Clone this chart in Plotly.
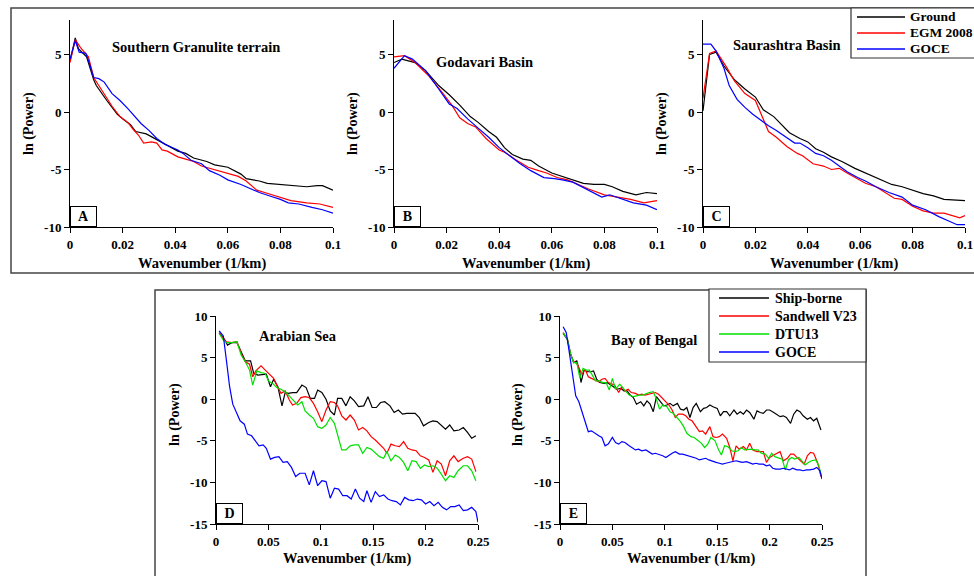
import plotly.graph_objects as go

# ---------------- DATA ----------------
# Panel A - Southern Granulite terrain
a_ground_x = [0, 0.002, 0.0032, 0.0063, 0.009, 0.010, 0.014, 0.018, 0.020, 0.023, 0.025, 0.029, 0.033, 0.037, 0.041, 0.044, 0.047, 0.052, 0.055, 0.060, 0.065, 0.067, 0.072, 0.075, 0.080, 0.085, 0.090, 0.094, 0.096, 0.1]
a_ground_y = [4.4, 6.45, 5.5, 4.8, 2.8, 2.3, 1.0, -0.2, -0.6, -1.1, -1.7, -1.9, -2.4, -2.9, -3.4, -3.6, -4.0, -4.3, -4.6, -4.8, -5.4, -5.8, -6.0, -6.2, -6.3, -6.4, -6.5, -6.4, -6.4, -6.8]
a_egm_x = [0, 0.002, 0.004, 0.007, 0.009, 0.013, 0.016, 0.019, 0.022, 0.024, 0.026, 0.028, 0.031, 0.033, 0.035, 0.037, 0.041, 0.044, 0.047, 0.050, 0.053, 0.056, 0.060, 0.064, 0.067, 0.071, 0.074, 0.077, 0.080, 0.084, 0.090, 0.095, 0.1]
a_egm_y = [4.3, 6.3, 5.6, 4.8, 3.0, 1.5, 0.5, -0.4, -0.9, -1.5, -2.0, -2.7, -2.6, -2.7, -3.3, -3.4, -3.9, -4.1, -4.3, -4.7, -4.9, -5.1, -5.4, -5.6, -6.0, -6.8, -7.0, -7.2, -7.4, -7.7, -7.9, -8.0, -8.3]
a_goce_x = [0, 0.002, 0.0035, 0.006, 0.007, 0.009, 0.011, 0.013, 0.016, 0.019, 0.022, 0.025, 0.027, 0.030, 0.033, 0.036, 0.038, 0.041, 0.043, 0.046, 0.050, 0.053, 0.057, 0.060, 0.065, 0.069, 0.072, 0.076, 0.080, 0.083, 0.087, 0.092, 0.096, 0.1]
a_goce_y = [4.6, 6.2, 5.2, 5.1, 4.5, 3.0, 2.9, 2.6, 1.6, 1.0, 0.3, -0.5, -1.0, -1.6, -2.3, -2.8, -3.0, -3.3, -3.6, -4.2, -4.5, -5.1, -5.5, -5.9, -6.3, -6.7, -7.0, -7.3, -7.6, -7.9, -8.0, -8.3, -8.5, -8.8]

# Panel B - Godavari Basin
b_ground_x = [0, 0.003, 0.008, 0.012, 0.017, 0.021, 0.025, 0.029, 0.032, 0.036, 0.039, 0.042, 0.045, 0.049, 0.052, 0.055, 0.060, 0.064, 0.068, 0.072, 0.076, 0.080, 0.083, 0.087, 0.092, 0.096, 0.1]
b_ground_y = [4.3, 4.6, 4.3, 3.6, 2.3, 1.5, 0.6, -0.4, -0.9, -1.7, -2.2, -3.1, -3.7, -4.1, -4.2, -4.7, -5.3, -5.6, -5.9, -6.2, -6.3, -6.3, -6.5, -6.9, -7.2, -7.0, -7.1]
b_egm_x = [0, 0.004, 0.008, 0.013, 0.018, 0.022, 0.025, 0.028, 0.031, 0.035, 0.040, 0.042, 0.046, 0.051, 0.055, 0.058, 0.062, 0.066, 0.069, 0.074, 0.080, 0.085, 0.090, 0.095, 0.1]
b_egm_y = [4.8, 4.9, 4.3, 3.2, 1.8, 0.6, -0.5, -1.0, -1.3, -2.3, -3.3, -3.5, -4.1, -4.8, -5.1, -5.3, -5.7, -5.9, -6.2, -6.7, -7.2, -7.4, -7.6, -7.9, -7.7]
b_goce_x = [0, 0.004, 0.007, 0.012, 0.017, 0.021, 0.024, 0.028, 0.032, 0.036, 0.040, 0.044, 0.048, 0.052, 0.057, 0.061, 0.064, 0.068, 0.074, 0.079, 0.082, 0.086, 0.091, 0.096, 0.1]
b_goce_y = [3.8, 4.9, 4.6, 3.6, 2.0, 0.7, 0.3, -0.6, -1.4, -2.2, -3.1, -3.8, -4.5, -5.1, -5.7, -5.8, -5.9, -6.1, -6.8, -7.4, -7.2, -7.5, -7.9, -8.1, -8.5]

# Panel C - Saurashtra Basin
c_ground_x = [0, 0.0025, 0.005, 0.008, 0.012, 0.016, 0.020, 0.023, 0.027, 0.030, 0.033, 0.037, 0.040, 0.043, 0.046, 0.049, 0.053, 0.058, 0.060, 0.064, 0.068, 0.072, 0.076, 0.080, 0.084, 0.088, 0.092, 0.1]
c_ground_y = [0.1, 5.0, 5.2, 4.0, 2.8, 2.0, 1.3, 0.2, -0.4, -1.1, -1.8, -2.3, -2.6, -3.2, -3.5, -3.9, -4.3, -4.9, -5.1, -5.5, -5.9, -6.3, -6.5, -6.8, -7.1, -7.3, -7.6, -7.7]
c_egm_x = [0, 0.0025, 0.005, 0.009, 0.012, 0.016, 0.020, 0.023, 0.025, 0.028, 0.032, 0.036, 0.038, 0.042, 0.046, 0.049, 0.052, 0.055, 0.059, 0.062, 0.066, 0.069, 0.073, 0.076, 0.080, 0.084, 0.088, 0.092, 0.098, 0.1]
c_egm_y = [1.2, 5.1, 5.3, 3.9, 2.7, 1.6, 1.0, -0.6, -1.7, -2.2, -3.0, -3.6, -3.8, -4.5, -4.7, -5.0, -4.9, -5.3, -5.8, -6.2, -6.5, -6.9, -7.5, -7.6, -8.2, -8.6, -8.8, -8.8, -9.2, -9.0]
c_goce_x = [0, 0.003, 0.005, 0.008, 0.010, 0.013, 0.016, 0.019, 0.022, 0.025, 0.028, 0.032, 0.035, 0.037, 0.040, 0.043, 0.046, 0.049, 0.052, 0.055, 0.059, 0.062, 0.066, 0.071, 0.076, 0.080, 0.085, 0.090, 0.094, 0.097, 0.1]
c_goce_y = [5.9, 5.9, 5.3, 3.8, 2.3, 1.1, 0.4, -0.2, -0.7, -1.2, -1.6, -2.2, -2.7, -2.7, -3.1, -3.6, -3.8, -4.2, -4.7, -5.2, -5.7, -6.0, -6.5, -7.0, -7.4, -8.1, -8.5, -9.1, -9.5, -9.8, -9.8]

# Panel D - Arabian Sea
d_ship_x = [0.003, 0.008, 0.011, 0.015, 0.020, 0.025, 0.028, 0.033, 0.036, 0.040, 0.045, 0.048, 0.052, 0.055, 0.059, 0.063, 0.066, 0.069, 0.073, 0.077, 0.082, 0.086, 0.090, 0.094, 0.097, 0.101, 0.105, 0.109, 0.113, 0.116, 0.120, 0.124, 0.128, 0.132, 0.136, 0.141, 0.145, 0.149, 0.153, 0.157, 0.161, 0.166, 0.170, 0.174, 0.178, 0.182, 0.186, 0.190, 0.194, 0.198, 0.203, 0.207, 0.211, 0.215, 0.219, 0.223, 0.227, 0.232, 0.236, 0.240, 0.244, 0.248]
d_ship_y = [8.0, 7.2, 6.5, 6.8, 6.8, 5.3, 4.6, 4.6, 3.1, 2.9, 3.0, 3.0, 1.5, 2.4, 1.5, -0.8, 0.8, 0.7, 0.8, 0.8, 1.7, 1.4, 0.1, 0.1, 1.1, 0.8, 0.0, -1.4, -1.9, 0.1, 0.1, -0.8, 0.3, -0.2, -0.9, -0.8, 0.3, -1.0, -1.0, -0.4, -0.3, -0.8, -1.6, -1.3, -1.8, -1.7, -1.7, -1.7, -2.2, -3.2, -2.8, -2.6, -2.7, -3.1, -3.6, -3.1, -3.8, -3.7, -3.4, -4.0, -4.7, -4.4]
d_sand_x = [0.003, 0.007, 0.010, 0.015, 0.020, 0.025, 0.028, 0.032, 0.035, 0.038, 0.043, 0.047, 0.051, 0.055, 0.058, 0.062, 0.066, 0.070, 0.073, 0.077, 0.081, 0.085, 0.089, 0.093, 0.097, 0.101, 0.105, 0.109, 0.113, 0.116, 0.120, 0.124, 0.128, 0.132, 0.136, 0.140, 0.144, 0.148, 0.152, 0.156, 0.160, 0.163, 0.167, 0.171, 0.175, 0.179, 0.183, 0.187, 0.191, 0.195, 0.199, 0.203, 0.207, 0.211, 0.215, 0.219, 0.223, 0.227, 0.231, 0.236, 0.240, 0.244, 0.248]
d_sand_y = [7.9, 7.3, 6.9, 6.8, 6.9, 5.2, 4.5, 4.2, 2.7, 3.4, 4.0, 3.5, 3.0, 2.5, 1.7, 0.7, 1.0, -0.1, -0.7, -0.5, 0.2, 0.3, 0.2, -0.5, -1.5, -2.7, -1.3, -0.3, -0.4, -0.8, -2.0, -2.5, -1.9, -2.5, -3.7, -3.4, -3.8, -4.5, -4.9, -5.4, -5.9, -6.5, -5.4, -5.6, -5.7, -5.1, -5.9, -6.1, -6.2, -6.8, -7.0, -7.3, -8.8, -7.4, -7.8, -9.2, -7.4, -6.8, -7.5, -7.1, -6.9, -7.2, -8.7]
d_dtu_x = [0.003, 0.007, 0.010, 0.015, 0.020, 0.024, 0.028, 0.032, 0.035, 0.039, 0.043, 0.047, 0.050, 0.054, 0.058, 0.062, 0.066, 0.070, 0.074, 0.078, 0.082, 0.085, 0.089, 0.093, 0.097, 0.101, 0.105, 0.109, 0.113, 0.117, 0.120, 0.124, 0.128, 0.132, 0.136, 0.140, 0.144, 0.148, 0.152, 0.156, 0.160, 0.163, 0.167, 0.171, 0.175, 0.179, 0.183, 0.187, 0.191, 0.195, 0.199, 0.203, 0.207, 0.211, 0.215, 0.219, 0.223, 0.227, 0.231, 0.236, 0.240, 0.244, 0.248]
d_dtu_y = [7.9, 7.1, 6.8, 6.8, 6.9, 5.3, 4.5, 3.5, 1.7, 3.4, 3.2, 3.1, 2.2, 1.9, 1.4, 1.2, 0.9, 0.4, -0.2, -0.7, -0.3, -1.4, -1.9, -2.3, -3.3, -3.5, -3.1, -2.2, -2.9, -4.9, -6.1, -6.1, -5.6, -5.5, -5.5, -6.5, -5.8, -6.0, -6.5, -6.9, -7.1, -6.3, -7.4, -6.7, -7.0, -7.6, -8.6, -7.4, -7.5, -8.3, -7.9, -8.1, -8.0, -8.3, -9.0, -9.8, -9.2, -9.4, -8.6, -8.0, -8.0, -8.6, -9.8]
d_goce_x = [0.003, 0.007, 0.010, 0.013, 0.016, 0.020, 0.023, 0.027, 0.030, 0.034, 0.037, 0.041, 0.045, 0.048, 0.052, 0.056, 0.060, 0.064, 0.068, 0.072, 0.076, 0.080, 0.085, 0.089, 0.093, 0.097, 0.101, 0.105, 0.109, 0.113, 0.117, 0.121, 0.125, 0.129, 0.133, 0.137, 0.141, 0.144, 0.148, 0.152, 0.156, 0.160, 0.164, 0.168, 0.172, 0.176, 0.180, 0.184, 0.188, 0.192, 0.196, 0.200, 0.204, 0.208, 0.212, 0.216, 0.220, 0.224, 0.228, 0.232, 0.236, 0.240, 0.244, 0.248, 0.25]
d_goce_y = [8.2, 7.6, 4.6, 1.5, -0.6, -1.8, -2.6, -3.0, -4.2, -4.4, -4.9, -5.6, -5.5, -5.9, -7.2, -7.0, -6.9, -7.6, -7.5, -8.2, -9.3, -8.9, -8.9, -10.3, -8.6, -10.4, -9.8, -9.9, -11.9, -10.7, -10.8, -11.6, -11.6, -12.0, -10.8, -11.9, -12.3, -11.0, -12.4, -11.1, -11.7, -11.5, -12.0, -12.2, -12.3, -12.7, -11.8, -12.1, -12.2, -12.0, -12.1, -12.6, -12.3, -12.8, -12.4, -13.0, -13.3, -12.9, -12.9, -12.7, -13.4, -13.3, -13.0, -13.5, -14.8]

# Panel E - Bay of Bengal
e_ship_x = [0.003, 0.007, 0.010, 0.013, 0.016, 0.019, 0.020, 0.023, 0.026, 0.029, 0.032, 0.035, 0.038, 0.042, 0.045, 0.048, 0.051, 0.054, 0.058, 0.061, 0.064, 0.067, 0.070, 0.073, 0.077, 0.080, 0.083, 0.086, 0.089, 0.092, 0.096, 0.099, 0.102, 0.105, 0.108, 0.112, 0.115, 0.118, 0.121, 0.124, 0.127, 0.130, 0.134, 0.137, 0.140, 0.143, 0.146, 0.150, 0.153, 0.156, 0.159, 0.162, 0.166, 0.169, 0.172, 0.175, 0.178, 0.181, 0.185, 0.188, 0.191, 0.194, 0.197, 0.200, 0.204, 0.207, 0.210, 0.213, 0.216, 0.220, 0.223, 0.226, 0.229, 0.232, 0.236, 0.239, 0.242, 0.245, 0.249]
e_ship_y = [7.9, 7.2, 5.5, 4.4, 4.6, 3.2, 2.0, 3.5, 3.3, 3.3, 3.4, 2.4, 2.0, 1.9, 2.0, 1.8, 1.5, 1.2, 1.3, 1.0, 1.0, 0.5, 0.2, -0.6, -0.3, -0.8, -0.2, -0.6, -1.5, 0.3, -0.3, -0.8, -0.7, -0.5, -0.8, -0.5, -1.2, -1.3, -1.0, -2.2, -1.0, -0.5, -1.5, -1.1, -1.0, -0.7, -0.9, -1.1, -2.0, -1.5, -1.5, -2.0, -1.3, -1.8, -1.5, -1.8, -1.3, -1.6, -2.4, -1.4, -1.6, -1.7, -1.3, -1.3, -1.6, -1.8, -2.1, -2.0, -2.2, -2.9, -1.8, -1.3, -1.5, -2.0, -2.4, -2.2, -2.6, -2.3, -3.7]
e_sand_x = [0.003, 0.007, 0.010, 0.013, 0.016, 0.019, 0.021, 0.024, 0.027, 0.030, 0.034, 0.037, 0.040, 0.043, 0.046, 0.049, 0.052, 0.056, 0.059, 0.062, 0.065, 0.068, 0.072, 0.075, 0.078, 0.081, 0.085, 0.088, 0.091, 0.094, 0.097, 0.101, 0.104, 0.107, 0.110, 0.113, 0.117, 0.120, 0.123, 0.126, 0.130, 0.133, 0.136, 0.139, 0.143, 0.146, 0.149, 0.152, 0.155, 0.159, 0.162, 0.165, 0.168, 0.171, 0.175, 0.178, 0.181, 0.184, 0.188, 0.191, 0.194, 0.197, 0.200, 0.204, 0.207, 0.210, 0.213, 0.217, 0.220, 0.223, 0.226, 0.229, 0.233, 0.236, 0.239, 0.242, 0.246, 0.249]
e_sand_y = [8.0, 7.3, 5.4, 4.5, 4.3, 3.5, 3.0, 3.6, 2.7, 2.5, 2.3, 2.1, 2.4, 2.5, 2.0, 1.8, 1.7, 0.8, 1.5, 1.0, 1.2, 0.8, 0.7, 0.5, 0.6, 0.5, 0.6, 0.7, 0.8, 0.6, 0.2, -0.4, -0.7, -1.3, -2.2, -1.8, -1.8, -2.0, -2.4, -2.6, -3.3, -3.9, -3.8, -4.2, -3.3, -4.5, -4.6, -4.5, -4.2, -4.7, -5.8, -7.4, -5.6, -6.0, -5.7, -6.1, -5.3, -6.1, -6.3, -6.3, -6.3, -7.6, -7.0, -6.7, -6.5, -6.3, -7.4, -7.1, -6.6, -6.6, -7.0, -7.3, -7.8, -6.8, -6.4, -6.5, -7.7, -9.3]
e_dtu_x = [0.003, 0.007, 0.010, 0.013, 0.016, 0.019, 0.022, 0.025, 0.028, 0.031, 0.034, 0.037, 0.041, 0.044, 0.047, 0.050, 0.053, 0.057, 0.060, 0.063, 0.066, 0.070, 0.073, 0.076, 0.079, 0.082, 0.085, 0.089, 0.092, 0.095, 0.098, 0.102, 0.105, 0.108, 0.112, 0.115, 0.118, 0.121, 0.125, 0.128, 0.131, 0.135, 0.138, 0.141, 0.144, 0.148, 0.151, 0.154, 0.157, 0.160, 0.164, 0.167, 0.170, 0.173, 0.176, 0.180, 0.183, 0.186, 0.189, 0.192, 0.196, 0.199, 0.202, 0.205, 0.208, 0.212, 0.215, 0.218, 0.221, 0.224, 0.228, 0.231, 0.234, 0.237, 0.240, 0.244, 0.247, 0.25]
e_dtu_y = [8.0, 7.2, 5.5, 4.4, 4.4, 2.5, 3.7, 3.5, 3.5, 2.8, 2.2, 2.2, 2.0, 2.0, 1.1, 2.5, 1.2, 1.8, 1.3, 0.9, 0.5, 0.3, 0.4, 0.5, 0.5, 0.7, 0.8, 0.9, 0.0, -1.2, -0.7, -0.9, -1.5, -1.7, -2.2, -2.7, -3.3, -4.1, -4.5, -4.6, -4.9, -5.3, -5.8, -5.4, -4.6, -5.0, -6.0, -6.7, -5.6, -5.7, -6.2, -6.3, -6.2, -5.8, -6.1, -6.0, -6.0, -6.1, -6.1, -6.5, -6.6, -7.1, -6.5, -6.9, -7.0, -7.2, -8.5, -7.3, -7.0, -7.2, -7.0, -7.4, -7.9, -7.6, -7.4, -7.3, -8.0, -9.5]
e_goce_x = [0.003, 0.006, 0.009, 0.012, 0.015, 0.018, 0.021, 0.024, 0.027, 0.030, 0.034, 0.037, 0.040, 0.043, 0.046, 0.050, 0.053, 0.056, 0.059, 0.062, 0.066, 0.069, 0.072, 0.075, 0.078, 0.082, 0.085, 0.088, 0.091, 0.094, 0.098, 0.101, 0.104, 0.107, 0.110, 0.114, 0.117, 0.120, 0.123, 0.126, 0.130, 0.133, 0.136, 0.139, 0.142, 0.146, 0.149, 0.152, 0.155, 0.158, 0.162, 0.165, 0.168, 0.171, 0.174, 0.178, 0.181, 0.184, 0.187, 0.190, 0.194, 0.197, 0.200, 0.203, 0.206, 0.210, 0.213, 0.216, 0.219, 0.222, 0.226, 0.229, 0.232, 0.235, 0.238, 0.242, 0.245, 0.248, 0.25]
e_goce_y = [8.7, 8.0, 5.5, 3.0, 0.4, -0.3, -1.5, -2.7, -3.9, -3.8, -4.2, -4.4, -4.6, -5.6, -5.4, -4.6, -5.2, -5.4, -5.1, -5.2, -5.6, -5.9, -6.1, -6.0, -6.2, -6.1, -6.4, -6.6, -6.5, -6.6, -6.8, -7.0, -6.7, -6.5, -6.3, -6.6, -6.6, -6.7, -6.8, -6.9, -7.1, -7.3, -7.2, -7.1, -7.3, -7.5, -7.6, -7.7, -7.8, -7.7, -7.6, -7.5, -7.4, -7.5, -7.6, -7.5, -7.7, -7.8, -7.7, -7.8, -7.8, -8.0, -7.9, -8.3, -8.4, -8.4, -8.3, -8.4, -8.5, -8.3, -8.5, -8.5, -8.6, -8.5, -8.5, -8.4, -8.2, -8.6, -9.6]

# tick labels
top_yticks = [-10, -5, 0, 5]
top_yticktext = ["-10", "-5", "0", "5"]
top_xticks = [0, 0.02, 0.04, 0.06, 0.08, 0.1]
top_xticktext = ["0", "0.02", "0.04", "0.06", "0.08", "0.1"]
bot_yticks = [-15, -10, -5, 0, 5, 10]
bot_yticktext = ["-15", "-10", "-5", "0", "5", "10"]
bot_xticks = [0, 0.05, 0.1, 0.15, 0.2, 0.25]
bot_xticktext = ["0", "0.05", "0.1", "0.15", "0.2", "0.25"]

panel_titles = ["Southern Granulite terrain", "Godavari Basin", "Saurashtra Basin", "Arabian Sea", "Bay of Bengal"]
panel_letters = ["A", "B", "C", "D", "E"]
top_names = ["Ground", "EGM 2008", "GOCE"]
bot_names = ["Ship-borne", "Sandwell V23", "DTU13", "GOCE"]

# ---------------- LAYOUT HELPERS ----------------
W, H = 974, 576
def px(x):
    return x / W
def py(y):
    return 1 - y / H

SERIF = "Liberation Serif, Times New Roman, serif"
BLACK, RED, GREEN, BLUE = "#000000", "#ff0000", "#00e000", "#0000ff"

def bold(size):
    return dict(family=SERIF, size=size, color="black", weight="bold")

fig = go.Figure()

# panel pixel boxes: (left, right, top, bottom)
panels = [
    (70, 333, 20, 227),
    (394, 657, 20, 227),
    (703, 965, 20, 227),
    (216, 478, 316, 524),
    (560, 822, 316, 524),
]

top_sets = [
    [(a_ground_x, a_ground_y), (a_egm_x, a_egm_y), (a_goce_x, a_goce_y)],
    [(b_ground_x, b_ground_y), (b_egm_x, b_egm_y), (b_goce_x, b_goce_y)],
    [(c_ground_x, c_ground_y), (c_egm_x, c_egm_y), (c_goce_x, c_goce_y)],
]
bot_sets = [
    [(d_ship_x, d_ship_y), (d_sand_x, d_sand_y), (d_dtu_x, d_dtu_y), (d_goce_x, d_goce_y)],
    [(e_ship_x, e_ship_y), (e_sand_x, e_sand_y), (e_dtu_x, e_dtu_y), (e_goce_x, e_goce_y)],
]
top_colors = [BLACK, RED, BLUE]
bot_colors = [BLACK, RED, GREEN, BLUE]

for i, sets in enumerate(top_sets):
    ax = "" if i == 0 else str(i + 1)
    for j, (xs, ys) in enumerate(sets):
        fig.add_trace(go.Scatter(
            x=xs, y=ys, mode="lines", name=top_names[j],
            line=dict(color=top_colors[j], width=1.2),
            xaxis="x" + ax, yaxis="y" + ax, showlegend=False,
        ))
for i, sets in enumerate(bot_sets):
    ax = str(i + 4)
    for j, (xs, ys) in enumerate(sets):
        fig.add_trace(go.Scatter(
            x=xs, y=ys, mode="lines", name=bot_names[j],
            line=dict(color=bot_colors[j], width=1.2),
            xaxis="x" + ax, yaxis="y" + ax, showlegend=False,
        ))

tickfont = bold(13)
layout = {}
for i, (l, r, t, b) in enumerate(panels):
    n = "" if i == 0 else str(i + 1)
    top = i < 3
    layout["xaxis" + n] = dict(
        domain=[px(l), px(r)], anchor="y" + n,
        range=[0, 0.1] if top else [0, 0.25],
        tickvals=top_xticks if top else bot_xticks,
        ticktext=top_xticktext if top else bot_xticktext,
        showline=True, linecolor="black", linewidth=1,
        ticks="outside", ticklen=5, tickcolor="black", tickwidth=1,
        showgrid=False, zeroline=False, tickfont=tickfont,
    )
    layout["yaxis" + n] = dict(
        domain=[py(b), py(t)], anchor="x" + n,
        range=[-10, 8] if top else [-15, 10],
        tickvals=top_yticks if top else bot_yticks,
        ticktext=top_yticktext if top else bot_yticktext,
        showline=True, linecolor="black", linewidth=1,
        ticks="outside", ticklen=5, tickcolor="black", tickwidth=1,
        showgrid=False, zeroline=False, tickfont=tickfont,
    )

annotations = []
title_pos = [(196, 47), (484, 62), (787, 45), (298, 336), (654, 340)]
ylab_x = [29, 353, 662, 175, 518]
ylab_y = [124, 124, 124, 415, 415]
xlab_y = [263, 263, 263, 558, 558]
for i, (l, r, t, b) in enumerate(panels):
    tx, ty = title_pos[i]
    annotations.append(dict(x=px(tx), y=py(ty), xref="paper", yref="paper",
                            text=panel_titles[i], showarrow=False, font=bold(14.5),
                            xanchor="center", yanchor="middle"))
    annotations.append(dict(x=px((l + r) / 2), y=py(xlab_y[i]), xref="paper", yref="paper",
                            text="Wavenumber (1/km)", showarrow=False, font=bold(14.5),
                            xanchor="center", yanchor="middle"))
    annotations.append(dict(x=px(ylab_x[i]), y=py(ylab_y[i]), xref="paper", yref="paper",
                            text="ln (Power)", showarrow=False, textangle=-90, font=bold(14),
                            xanchor="center", yanchor="middle"))
    annotations.append(dict(x=px(l), y=py(b), xref="paper", yref="paper",
                            text=panel_letters[i], showarrow=False, font=bold(14),
                            xanchor="left", yanchor="bottom", width=23, height=17,
                            bordercolor="black", borderwidth=1, borderpad=1,
                            bgcolor="white", align="center", valign="middle"))

shapes = [
    dict(type="rect", xref="paper", yref="paper", x0=px(11), x1=px(990), y0=py(273), y1=py(8),
         line=dict(color="#444444", width=1.5)),
    dict(type="rect", xref="paper", yref="paper", x0=px(155), x1=px(866), y0=py(590), y1=py(290),
         line=dict(color="#444444", width=1.5)),
    # legend frames
    dict(type="rect", xref="paper", yref="paper", x0=px(851), x1=px(990), y0=py(58), y1=py(8),
         line=dict(color="#333333", width=1.2), fillcolor="white", layer="above"),
    dict(type="rect", xref="paper", yref="paper", x0=px(709), x1=px(866), y0=py(362), y1=py(289),
         line=dict(color="#333333", width=1.2), fillcolor="white", layer="above"),
]

# legends (sample line + label)
top_leg_y = [17, 33, 49]
for j, name in enumerate(top_names):
    yy = top_leg_y[j]
    shapes.append(dict(type="line", xref="paper", yref="paper", x0=px(857), x1=px(905),
                       y0=py(yy), y1=py(yy), line=dict(color=top_colors[j], width=1.5), layer="above"))
    annotations.append(dict(x=px(908), y=py(yy), xref="paper", yref="paper", text=name,
                            showarrow=False, font=bold(13.5), xanchor="left", yanchor="middle"))
bot_leg_y = [298, 316, 334, 352]
for j, name in enumerate(bot_names):
    yy = bot_leg_y[j]
    shapes.append(dict(type="line", xref="paper", yref="paper", x0=px(719), x1=px(769),
                       y0=py(yy), y1=py(yy), line=dict(color=bot_colors[j], width=1.5), layer="above"))
    annotations.append(dict(x=px(773), y=py(yy), xref="paper", yref="paper", text=name,
                            showarrow=False, font=bold(14), xanchor="left", yanchor="middle"))

fig.update_layout(
    width=W, height=H,
    margin=dict(l=0, r=0, t=0, b=0, autoexpand=False),
    paper_bgcolor="white", plot_bgcolor="white",
    annotations=annotations, shapes=shapes, showlegend=False,
    **layout,
)

fig.write_html("out.html")
